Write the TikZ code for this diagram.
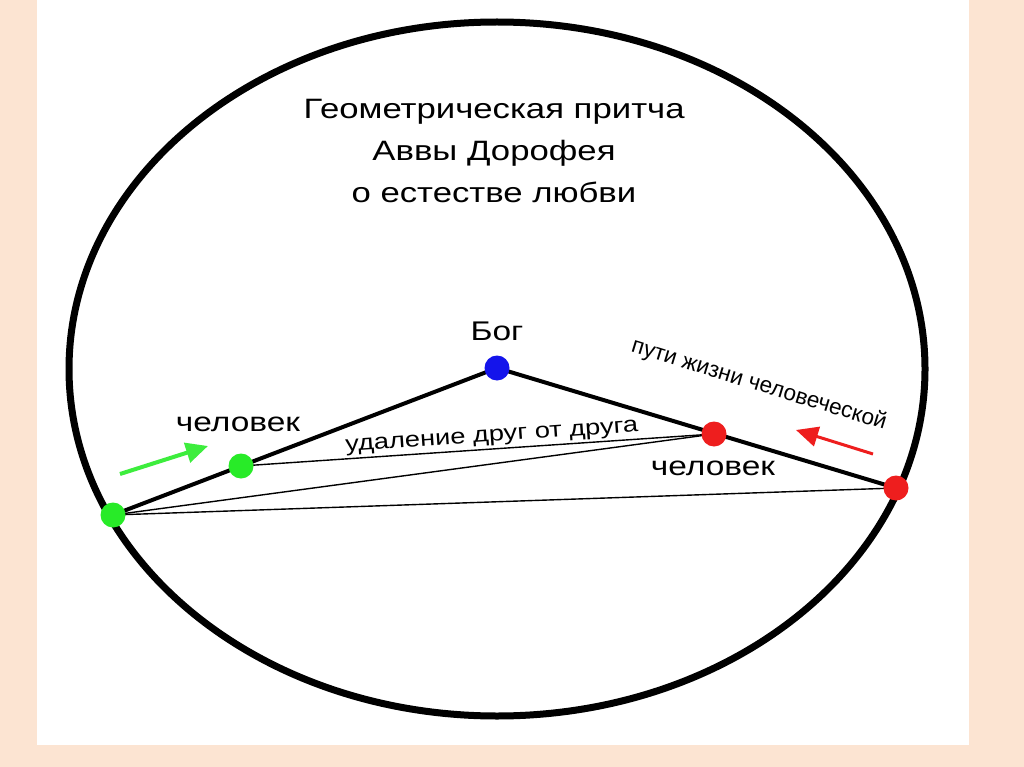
\documentclass[tikz,border=0pt]{standalone}
\usepackage{fontspec}
\setmainfont{Liberation Sans}
\newfontfamily\widefont[FakeStretch=1.24]{Liberation Sans}
\usetikzlibrary{arrows.meta,positioning,backgrounds}

\definecolor{peach}{RGB}{252,228,210}
\definecolor{dotgreen}{RGB}{40,235,40}
\definecolor{dotred}{RGB}{238,30,30}
\definecolor{dotblue}{RGB}{20,20,235}

\begin{document}
\begin{tikzpicture}[
  x=1pt, y=-1pt,
  dot/.style={circle, fill=#1, inner sep=0pt, minimum size=25pt},
  wayline/.style={line width=4pt, line cap=round},
  chord/.style={line width=1.4pt},
  lbl/.style={inner sep=0pt, font=\widefont\fontsize{27}{30}\selectfont},
  small/.style={inner sep=0pt, font=\widefont\fontsize{22}{25}\selectfont},
  arrow/.style={-{Triangle[length=22pt, width=20pt]}, line width=4pt}
]
\useasboundingbox (0,0) rectangle (1024,767);

% people and God
\node[dot=dotblue] (god) at (497,368) {};
\node[dot=dotgreen] (gin) at (241,466) {};
\node[dot=dotgreen] (gout) at (113,515) {};
\node[dot=dotred] (rin) at (714,434) {};
\node[dot=dotred] (rout) at (896,488) {};

\begin{scope}[on background layer]
  \fill[peach] (0,0) rectangle (1024,767);
  \fill[white] (37,0) rectangle (969,745);
  \draw[line width=7pt] (497,369) ellipse [x radius=428, y radius=347];
  \draw[wayline] (god.center) -- (gout.center);
  \draw[wayline] (god.center) -- (rout.center);
  \draw[chord] (gin.center) -- (rin.center);
  \draw[chord] (gout.center) -- (rin.center);
  \draw[chord] (gout.center) -- (rout.center);
\end{scope}

\node[align=center, font=\widefont\fontsize{28}{42}\selectfont] (title) at (494,151)
  {Геометрическая притча\\Аввы Дорофея\\о естестве любви};

\node[lbl, above=14pt of god] (godlbl) {Бог};
\node[lbl] (manl) at (238,424) {человек};
\node[lbl] (manr) at (713,468) {человек};
\node[small, rotate=4] (dist) at (492,438) {удаление друг от друга};
\node[inner sep=0pt, font=\fontsize{22.5}{25}\selectfont, rotate=-17] (ways) at (759,385) {пути жизни человеческой};

% direction of life
\coordinate (ga0) at (120,474);
\coordinate (ga1) at (208,446);
\coordinate (ra0) at (873,454);
\coordinate (ra1) at (796,430);
\draw[arrow, dotgreen!90!white] (ga0) -- (ga1);
\draw[arrow, dotred, line width=3pt] (ra0) -- (ra1);
\end{tikzpicture}
\end{document}
